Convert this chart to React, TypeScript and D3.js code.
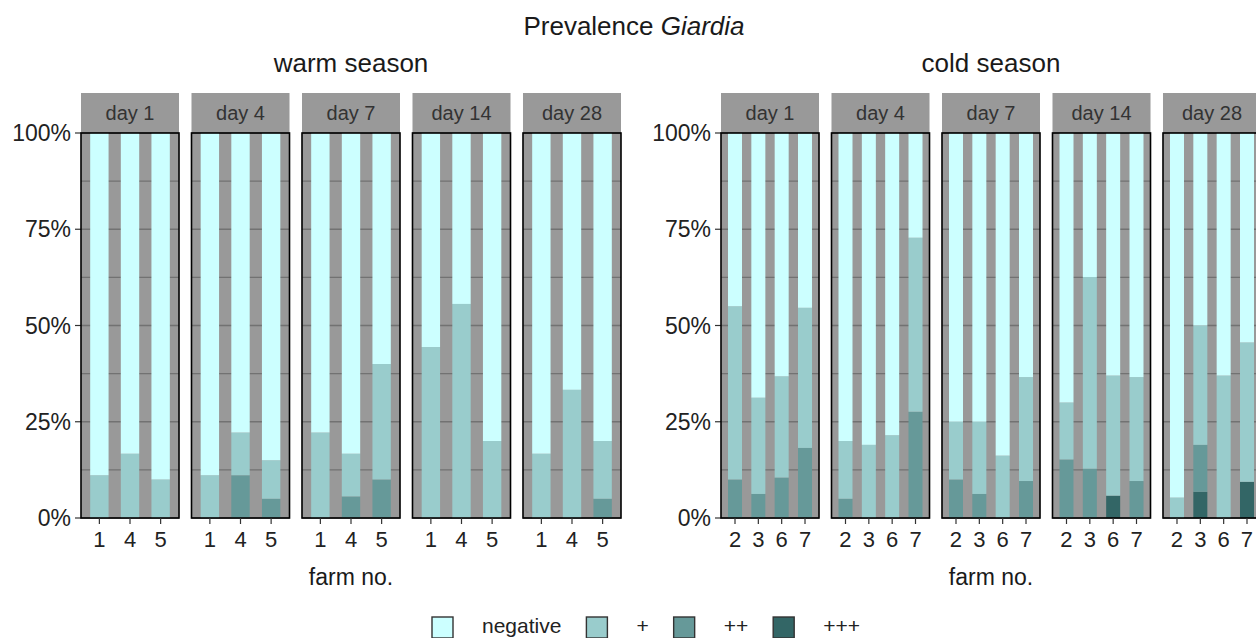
import React from 'react';
import * as d3 from 'd3';

// ---- data ---------------------------------------------------------------
const days = ['day 1', 'day 4', 'day 7', 'day 14', 'day 28'];
const warmFarms = ['1', '4', '5'];
const coldFarms = ['2', '3', '6', '7'];
const levels = ['negative', '+', '++', '+++'];
const levelColors = ['#CCFFFF', '#99CCCC', '#669999', '#336666'];
const yTicks = [0, 0.25, 0.5, 0.75, 1];
const yTickLabels = ['0%', '25%', '50%', '75%', '100%'];
const yGrid = [0, 0.125, 0.25, 0.375, 0.5, 0.625, 0.75, 0.875, 1];

// shares per day (rows) and farm (columns): warm season, farms 1, 4, 5
const warmNegative = [
  [0.889, 0.833, 0.9],
  [0.889, 0.778, 0.85],
  [0.778, 0.833, 0.6],
  [0.556, 0.444, 0.8],
  [0.833, 0.667, 0.8],
];
const warmPlus1 = [
  [0.111, 0.167, 0.1],
  [0.111, 0.111, 0.1],
  [0.222, 0.111, 0.3],
  [0.444, 0.556, 0.2],
  [0.167, 0.333, 0.15],
];
const warmPlus2 = [
  [0, 0, 0],
  [0, 0.111, 0.05],
  [0, 0.056, 0.1],
  [0, 0, 0],
  [0, 0, 0.05],
];
const warmPlus3 = [
  [0, 0, 0],
  [0, 0, 0],
  [0, 0, 0],
  [0, 0, 0],
  [0, 0, 0],
];

// cold season, farms 2, 3, 6, 7
const coldNegative = [
  [0.45, 0.6875, 0.632, 0.454],
  [0.8, 0.81, 0.785, 0.272],
  [0.75, 0.75, 0.838, 0.634],
  [0.7, 0.374, 0.63, 0.634],
  [0.947, 0.5, 0.63, 0.544],
];
const coldPlus1 = [
  [0.45, 0.25, 0.263, 0.364],
  [0.15, 0.19, 0.215, 0.452],
  [0.15, 0.1875, 0.162, 0.27],
  [0.148, 0.498, 0.312, 0.27],
  [0.053, 0.31, 0.37, 0.362],
];
const coldPlus2 = [
  [0.1, 0.0625, 0.105, 0.182],
  [0.05, 0, 0, 0.276],
  [0.1, 0.0625, 0, 0.096],
  [0.152, 0.128, 0, 0.096],
  [0, 0.122, 0, 0],
];
const coldPlus3 = [
  [0, 0, 0, 0],
  [0, 0, 0, 0],
  [0, 0, 0, 0],
  [0, 0, 0.058, 0],
  [0, 0.068, 0, 0.094],
];

// ---- layout -------------------------------------------------------------
const W = 1256;
const H = 638;
const FONT = "'Liberation Sans', Arial, sans-serif";
const plotTop = 133;
const plotBottom = 518;
const stripTop = 93;
const panelGroupWidth = 540;
const colorOf = d3.scaleOrdinal<string, string>().domain(levels).range(levelColors);
const y = d3.scaleLinear().domain([0, 1]).range([plotBottom, plotTop]);
const stackOrder = ['+++', '++', '+', 'negative'];

type Season = {
  title: string;
  left: number;
  farms: string[];
  neg: number[][];
  p1: number[][];
  p2: number[][];
  p3: number[][];
};

const seasons: Season[] = [
  { title: 'warm season', left: 81, farms: warmFarms, neg: warmNegative, p1: warmPlus1, p2: warmPlus2, p3: warmPlus3 },
  { title: 'cold season', left: 721, farms: coldFarms, neg: coldNegative, p1: coldPlus1, p2: coldPlus2, p3: coldPlus3 },
];

function SeasonPlot({ s }: { s: Season }) {
  const panelX = d3
    .scaleBand<string>()
    .domain(days)
    .range([s.left, s.left + panelGroupWidth])
    .paddingInner(0.113)
    .paddingOuter(0);
  const pw = panelX.bandwidth();
  const fx = d3.scalePoint<string>().domain(s.farms).range([0, pw]).padding(0.6);
  const barW = fx.step() * 0.6;
  const stack = d3.stack<any>().keys(stackOrder);

  return (
    <g>
      <text x={s.left + panelGroupWidth / 2} y={72} textAnchor="middle" fontSize={26} fill="#1a1a1a">
        {s.title}
      </text>
      {/* y axis */}
      {yTicks.map((t, i) => (
        <g key={t}>
          <line x1={s.left - 6} x2={s.left} y1={y(t)} y2={y(t)} stroke="#333" strokeWidth={1.2} />
          <text x={s.left - 10} y={y(t) + 8} textAnchor="end" fontSize={23} fill="#222">
            {yTickLabels[i]}
          </text>
        </g>
      ))}
      {days.map((day, di) => {
        const x0 = panelX(day)!;
        const rows = s.farms.map((f, i) => ({
          farm: f,
          negative: s.neg[di][i],
          '+': s.p1[di][i],
          '++': s.p2[di][i],
          '+++': s.p3[di][i],
        }));
        const series = stack(rows);
        return (
          <g key={day}>
            {/* facet strip */}
            <rect x={x0} y={stripTop} width={pw} height={plotTop - stripTop} fill="#999999" />
            <text x={x0 + pw / 2} y={120} textAnchor="middle" fontSize={20} fill="#333">
              {day}
            </text>
            {/* panel background and grid */}
            <rect x={x0} y={plotTop} width={pw} height={plotBottom - plotTop} fill="#999999" />
            {yGrid.map((g) => (
              <line key={g} x1={x0} x2={x0 + pw} y1={y(g)} y2={y(g)} stroke="#727272" strokeWidth={1.4} />
            ))}
            {/* stacked bars */}
            {series.map((ser) =>
              ser.map((seg, i) =>
                seg[1] - seg[0] > 0 ? (
                  <rect
                    key={ser.key + i}
                    x={x0 + fx(s.farms[i])! - barW / 2}
                    y={y(seg[1])}
                    width={barW}
                    height={y(seg[0]) - y(seg[1])}
                    fill={colorOf(ser.key)}
                  />
                ) : null
              )
            )}
            <rect x={x0} y={plotTop} width={pw} height={plotBottom - plotTop} fill="none" stroke="#000" strokeWidth={1.6} />
            {/* x axis */}
            {s.farms.map((f) => (
              <g key={f}>
                <line x1={x0 + fx(f)!} x2={x0 + fx(f)!} y1={plotBottom} y2={plotBottom + 6} stroke="#333" strokeWidth={1.2} />
                <text x={x0 + fx(f)!} y={547} textAnchor="middle" fontSize={22} fill="#222">
                  {f}
                </text>
              </g>
            ))}
          </g>
        );
      })}
      <text x={s.left + panelGroupWidth / 2} y={585} textAnchor="middle" fontSize={23} fill="#1a1a1a">
        farm no.
      </text>
    </g>
  );
}

function measure(text: string, size: number): number {
  if (typeof document === 'undefined') return text.length * size * 0.55;
  const c = document.createElement('canvas').getContext('2d');
  if (!c) return text.length * size * 0.55;
  c.font = `${size}px 'Liberation Sans', Arial, sans-serif`;
  return c.measureText(text).width;
}

function Legend() {
  const keySize = 21;
  const textGap = 29;
  const itemGap = 25;
  const fontSize = 21;
  let cursor = 432;
  const items = levels.map((lv) => {
    const kx = cursor;
    const tx = kx + keySize + textGap;
    const tw = measure(lv, fontSize);
    cursor = tx + tw + itemGap;
    return { lv, kx, tx };
  });
  return (
    <g>
      {items.map((it) => (
        <g key={it.lv}>
          <rect x={it.kx} y={617} width={keySize} height={keySize} fill={colorOf(it.lv)} stroke="#333" strokeWidth={1.4} />
          <text x={it.tx} y={633} fontSize={fontSize} fill="#222">
            {it.lv}
          </text>
        </g>
      ))}
    </g>
  );
}

export default function App() {
  return (
    <svg
      width={W}
      height={H}
      viewBox={`0 0 ${W} ${H}`}
      style={{ position: 'absolute', left: 0, top: 0, background: '#fff' }}
      fontFamily={FONT}
    >
      <rect width={W} height={H} fill="#fff" />
      <text x={634} y={35} textAnchor="middle" fontSize={26} fill="#1a1a1a">
        Prevalence <tspan fontStyle="italic">Giardia</tspan>
      </text>
      {seasons.map((s) => (
        <SeasonPlot key={s.title} s={s} />
      ))}
      <Legend />
    </svg>
  );
}
